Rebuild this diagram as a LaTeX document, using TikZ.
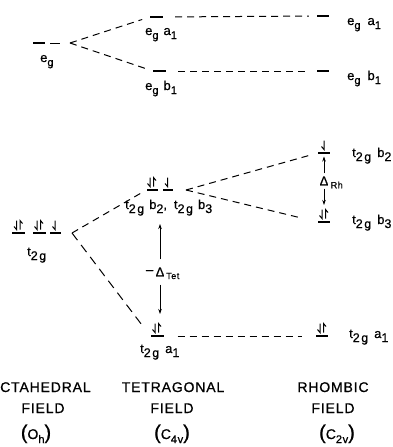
\documentclass[tikz,border=0pt]{standalone}
\usepackage{fontspec}
\setmainfont{Liberation Sans}[FakeBold=0.6,LetterSpace=6]
\newfontfamily\ttlfont{Liberation Sans}[LetterSpace=6,FakeBold=0.8]
\newfontfamily\tlabfont{Liberation Sans}[LetterSpace=12,FakeBold=0.6]
\usetikzlibrary{arrows.meta}
\newcommand{\lsub}[1]{\raisebox{-4pt}{\fontsize{11}{11}\selectfont #1}}
\newcommand{\tsub}[1]{\raisebox{-4pt}{\fontsize{12.5}{12.5}\selectfont #1}}
\newcommand{\bigpar}[1]{{\fontsize{20}{20}\selectfont #1}}
\begin{document}
\begin{tikzpicture}[x=1pt,y=-1pt,
  lvl/.style={fill=black,inner sep=0,minimum height=2.6pt,minimum width=#1},
  lvl/.default=13pt,
  conn/.style={dash pattern=on 7pt off 5pt, line width=1pt},
  lab/.style={inner sep=0, anchor=base west, font=\fontsize{13}{13}\selectfont},
  tlab/.style={inner sep=0, anchor=base west, font=\tlabfont\fontsize{13}{13}\selectfont},
  ttl/.style={inner sep=0, anchor=base, font=\ttlfont\fontsize{14}{14}\selectfont},
  arr/.style={line width=0.7pt,-{Stealth[length=5pt,width=3.5pt]}},
  upspin/.pic={\draw[line width=1pt] (0,0) -- (0,-9) -- (2.5,-6);},
  dnspin/.pic={\draw[line width=1pt] (0,-9) -- (0,0) -- (-2.5,-3);},
]
\useasboundingbox (0,0) rectangle (393,447);
% ---------- e_g levels ----------
\node[lvl=12pt] (oeg) at (39,43) {};
\node[lvl] (tega) at (156.5,17) {};
\node[lvl] (tegb) at (159.5,71) {};
\node[lvl=12pt] (rega) at (323,16) {};
\node[lvl=12pt] (regb) at (323,71) {};
\coordinate (v1) at (70,43);
\draw[line width=1pt, shorten <=5pt, shorten >=10pt] (oeg.east) -- (v1);
\draw[conn, shorten >=8pt] (v1) -- (tega.west);
\draw[conn, shorten >=8pt] (v1) -- (tegb.west);
\draw[conn, shorten <=12pt, shorten >=8pt] (tega.east) -- (rega.west);
\draw[conn, shorten <=12pt, shorten >=8pt] (tegb.east) -- (regb.west);
\node[lab] (loeg) at (40,62) {e\lsub{g}};
\node[lab] (ltega) at (145,35) {e\lsub{g}\hspace{5pt}a\lsub{1}};
\node[lab] (ltegb) at (145,90) {e\lsub{g}\hspace{5pt}b\lsub{1}};
\node[lab] (lrega) at (347,25) {e\lsub{g}\hspace{7pt}a\lsub{1}};
\node[lab] (lregb) at (347,80) {e\lsub{g}\hspace{7pt}b\lsub{1}};
% ---------- t2g levels ----------
\node[lvl] (ot1) at (18.5,233) {};
\node[lvl] (ot2) at (39,233) {};
\node[lvl=11pt] (ot3) at (55,233) {};
\node[lvl=11pt] (tb2) at (152,190) {};
\node[lvl=10pt] (tb3) at (167.5,190) {};
\node[lvl] (ta1) at (157,336) {};
\node[lvl=12pt] (rb2) at (324,153) {};
\node[lvl=12pt] (rb3) at (324,222) {};
\node[lvl=12pt] (ra1) at (322,336) {};
\coordinate (v2) at (72,233);
\coordinate (v3) at (186,190);
\draw[conn, shorten >=7pt] (v2) -- (tb2.west);
\draw[conn, dash pattern=on 9pt off 6pt, shorten >=10pt] (v2) -- (ta1.west);
\draw[conn, shorten >=10pt] (v3) -- (rb2.west);
\draw[conn, shorten >=16pt] (v3) -- (rb3.west);
\draw[conn, shorten <=14pt, shorten >=14pt] (ta1.east) -- (ra1.west);
% spins
\path ([xshift=-2pt,yshift=2pt]ot1.north) pic{dnspin};
\path ([xshift=1.5pt,yshift=2pt]ot1.north) pic{upspin};
\path ([xshift=-2pt,yshift=2pt]ot2.north) pic{dnspin};
\path ([xshift=1.5pt,yshift=2pt]ot2.north) pic{upspin};
\path ([xshift=0pt,yshift=2pt]ot3.north) pic{dnspin};
\path ([xshift=-2pt,yshift=2pt]tb2.north) pic{dnspin};
\path ([xshift=1.5pt,yshift=2pt]tb2.north) pic{upspin};
\path ([xshift=0pt,yshift=2pt]tb3.north) pic{dnspin};
\path ([xshift=-2pt,yshift=2pt]ta1.north) pic{dnspin};
\path ([xshift=1.5pt,yshift=2pt]ta1.north) pic{upspin};
\path ([xshift=0pt,yshift=2pt]rb2.north) pic{dnspin};
\path ([xshift=-2pt,yshift=2pt]rb3.north) pic{dnspin};
\path ([xshift=1.5pt,yshift=2pt]rb3.north) pic{upspin};
\path ([xshift=-2pt,yshift=2pt]ra1.north) pic{dnspin};
\path ([xshift=1.5pt,yshift=2pt]ra1.north) pic{upspin};
% labels
\node[tlab] (lot) at (27,256) {t\tsub{2g}};
\node[tlab] (ltb) at (125,209) {t\tsub{2g}\hspace{5pt}b\tsub{2},\hspace{7pt}t\tsub{2g}\hspace{5pt}b\tsub{3}};
\node[tlab] (lta) at (140,353) {t\tsub{2g}\hspace{6pt}a\tsub{1}};
\node[tlab] (lrb2) at (352,157) {t\tsub{2g}\hspace{6pt}b\tsub{2}};
\node[tlab] (lrb3) at (352,224) {t\tsub{2g}\hspace{6pt}b\tsub{3}};
\node[tlab] (lra) at (349,338) {t\tsub{2g}\hspace{6pt}a\tsub{1}};
% Delta Tet
\node[inner sep=0, font=\fontsize{13}{13}\selectfont] (dT) at (160,272) {Δ};
\node[inner sep=0, anchor=east, font=\fontsize{13}{13}\selectfont] (dTm) at ([xshift=-2pt]dT.west) {–};
\node[inner sep=0, anchor=west, font=\fontsize{9}{9}\selectfont] (dTs) at ([xshift=1.5pt,yshift=-4pt]dT.east) {Tet};
\coordinate (tT) at (160,224);
\coordinate (tB) at (160,314);
\draw[arr, shorten <=8pt] (dT.north) -- (tT);
\draw[arr, shorten <=8pt] (dT.south) -- (tB);
% Delta Rh
\node[inner sep=0, font=\fontsize{13}{13}\selectfont] (dR) at (324,181) {Δ};
\node[inner sep=0, anchor=west, font=\fontsize{9}{9}\selectfont] (dRs) at ([xshift=2pt,yshift=-4pt]dR.east) {Rh};
\coordinate (rB) at (324,205);
\draw[arr, shorten <=3pt, shorten >=2pt] (dR.north) -- (rb2.south);
\draw[arr, shorten <=3pt] (dR.south) -- (rB);
% titles
\node[ttl, anchor=base west] (t1a) at (0,392) {CTAHEDRAL};
\node[ttl] (t1b) at (43,413) {FIELD};
\node[ttl] (t1c) at (36,439) {\bigpar{(}O\lsub{h}\bigpar{)}};
\node[ttl] (t2a) at (173,392) {TETRAGONAL};
\node[ttl] (t2b) at (172,413) {FIELD};
\node[ttl] (t2c) at (172,439) {\bigpar{(}C\lsub{4v}\bigpar{)}};
\node[ttl] (t3a) at (333,392) {RHOMBIC};
\node[ttl] (t3b) at (333,413) {FIELD};
\node[ttl] (t3c) at (337,439) {\bigpar{(}C\lsub{2v}\bigpar{)}};
\end{tikzpicture}
\end{document}
